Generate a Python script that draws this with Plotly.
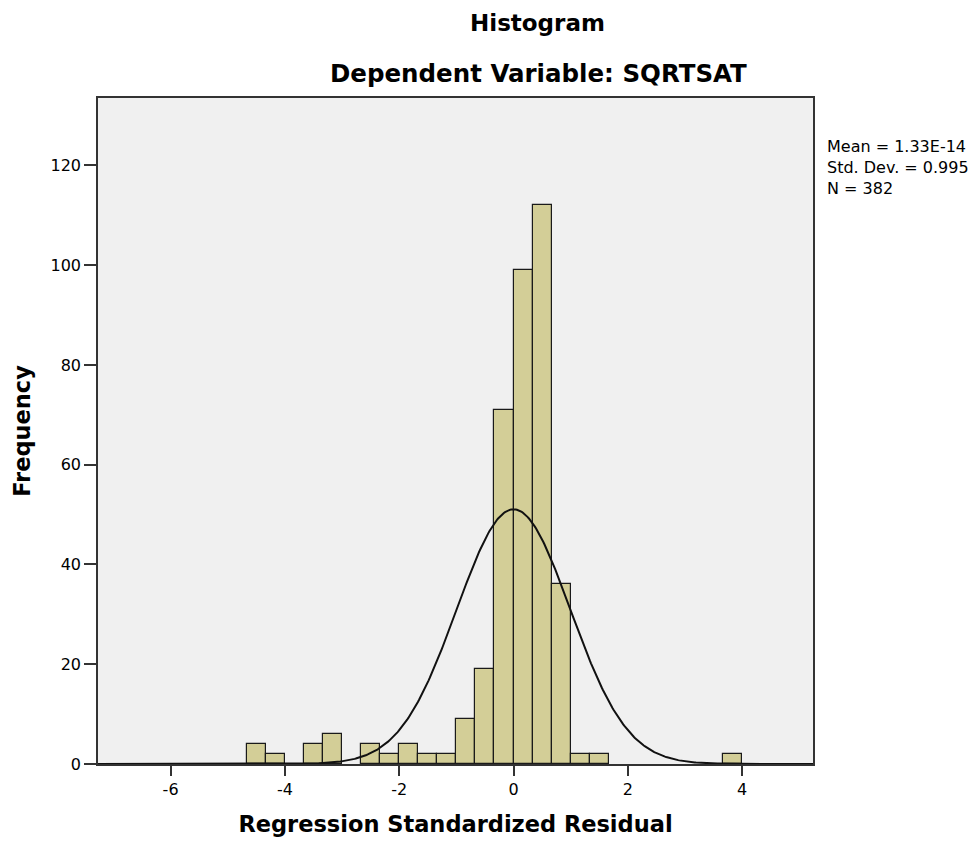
import numpy as np
import plotly.graph_objects as go

# Histogram of regression standardized residuals (bins of width 1/3)
BIN_WIDTH = 1.0 / 3.0
BIN_START = -14.0 / 3.0
COUNTS = [4, 2, 0, 4, 6, 0, 4, 2, 4, 2, 2, 9, 19, 71, 99, 112, 36, 2, 2,
          0, 0, 0, 0, 0, 0, 2]

# Summary statistics shown beside the plot
MEAN = 1.33e-14
STD = 0.995
N = 382

X_TICKS = [-6, -4, -2, 0, 2, 4]
Y_TICKS = [0, 20, 40, 60, 80, 100, 120]
X_RANGE = [-7.27, 5.24]
Y_RANGE = [0, 133.5]

FONT = "DejaVu Sans"
BAR_FILL = "#D3CE97"
FRAME = "#333333"

centers = [BIN_START + BIN_WIDTH * (i + 0.5) for i in range(len(COUNTS))]
xs = [c for c, n in zip(centers, COUNTS) if n > 0]
ys = [n for n in COUNTS if n > 0]

fig = go.Figure()
fig.add_trace(go.Bar(
    x=xs, y=ys, width=BIN_WIDTH,
    marker=dict(color=BAR_FILL, line=dict(color="#1a1a1a", width=1.2)),
    hoverinfo="x+y", showlegend=False,
))

# Normal density scaled to the histogram counts
curve_x = np.linspace(X_RANGE[0], X_RANGE[1], 600)
curve_y = N * BIN_WIDTH / (STD * np.sqrt(2 * np.pi)) * np.exp(-0.5 * ((curve_x - MEAN) / STD) ** 2)
fig.add_trace(go.Scatter(
    x=curve_x, y=curve_y, mode="lines",
    line=dict(color="#111111", width=2), hoverinfo="skip", showlegend=False,
))

fig.update_layout(
    width=976, height=844,
    margin=dict(l=98, r=163, t=98, b=80),
    paper_bgcolor="white", plot_bgcolor="#F0F0F0",
    font=dict(family=FONT, color="#000000"),
    bargap=0,
    xaxis=dict(
        range=X_RANGE, tickvals=X_TICKS, ticktext=[str(v) for v in X_TICKS],
        ticks="outside", ticklen=10, tickwidth=1.5, tickcolor=FRAME,
        showline=True, linecolor=FRAME, linewidth=1.5, mirror=True,
        showgrid=False, zeroline=False,
        tickfont=dict(family=FONT, size=16, color="#000000"),
        title=dict(text="<b>Regression Standardized Residual</b>",
                   font=dict(family=FONT, size=22.5, color="#000000"), standoff=18),
    ),
    yaxis=dict(
        range=Y_RANGE, tickvals=Y_TICKS,
        ticks="outside", ticklen=12, tickwidth=1.5, tickcolor=FRAME,
        showline=True, linecolor=FRAME, linewidth=1.5, mirror=True,
        showgrid=False, zeroline=False,
        tickfont=dict(family=FONT, size=16, color="#000000"),
        title=dict(text="<b>Frequency</b>",
                   font=dict(family=FONT, size=22.5, color="#000000"), standoff=14),
    ),
    annotations=[
        dict(text="<b>Histogram</b>", xref="paper", yref="paper",
             x=(537 - 98) / 715, y=1 + (98 - 23) / 666, xanchor="center", yanchor="middle",
             showarrow=False, font=dict(family=FONT, size=23, color="#000000")),
        dict(text="<b>Dependent Variable: SQRTSAT</b>", xref="paper", yref="paper",
             x=(538 - 98) / 715, y=1 + (98 - 73) / 666, xanchor="center", yanchor="middle",
             showarrow=False, font=dict(family=FONT, size=24.5, color="#000000")),
        dict(text=f"Mean = 1.33E-14<br>Std. Dev. = {STD}<br>N = {N}",
             xref="paper", yref="paper",
             x=(825 - 98) / 715, y=1 - (135 - 98) / 666, xanchor="left", yanchor="top",
             align="left", showarrow=False,
             font=dict(family=FONT, size=16, color="#000000")),
    ],
)

fig.write_html("out.html")
